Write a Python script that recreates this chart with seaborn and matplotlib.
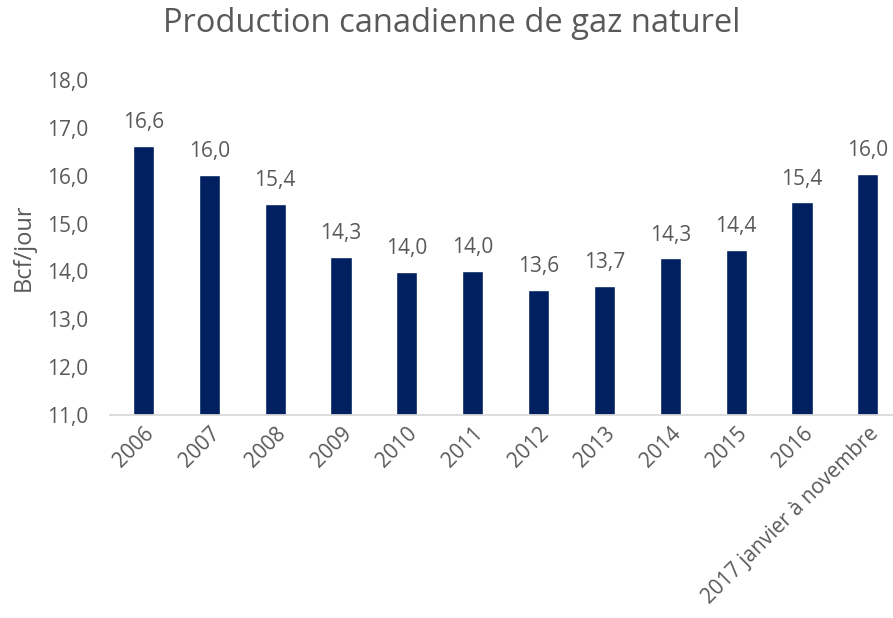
import numpy as np
import pandas as pd
import seaborn as sns
import matplotlib.pyplot as plt

# chart values
years = ['2006', '2007', '2008', '2009', '2010', '2011', '2012', '2013',
         '2014', '2015', '2016', '2017 janvier à novembre']
production = [16.62, 16.02, 15.41, 14.30, 13.99, 14.00, 13.62, 13.69,
              14.27, 14.45, 15.44, 16.03]
yticks = [11, 12, 13, 14, 15, 16, 17, 18]

df = pd.DataFrame({'Annee': years, 'Production': production})

sns.set_theme(style='white')
plt.rcParams['font.family'] = ['Open Sans', 'DejaVu Sans']
text_col = '#595959'

fig = plt.figure(figsize=(8.93, 6.18), dpi=100)
ax = fig.add_axes([0.1237, 0.3285, 0.885, 0.5421])

sns.barplot(data=df, x='Annee', y='Production', color='#002060',
            saturation=1, width=0.32, ax=ax)

ax.set_ylim(11, 18)
ax.set_xlim(-0.5, len(years) - 0.5)
ax.set_yticks(yticks)
ax.set_yticklabels([f'{v:.1f}'.replace('.', ',') for v in yticks],
                   fontsize=15, color=text_col)
ax.tick_params(axis='y', length=0, pad=16)
ax.tick_params(axis='x', length=0, pad=6)
ax.set_xticks(range(len(years)))
ax.set_xticklabels(years, rotation=45, ha='right', rotation_mode='anchor',
                   fontsize=15, color=text_col)

for i, v in enumerate(production):
    ax.text(i, v + 0.27, f'{v:.1f}'.replace('.', ','), ha='center', va='bottom',
            fontsize=15, color=text_col)

for s in ['top', 'right', 'left']:
    ax.spines[s].set_visible(False)
ax.spines['bottom'].set_color('#d9d9d9')
ax.spines['bottom'].set_linewidth(1.3)

ax.set_xlabel('')
ax.set_ylabel('Bcf/jour', fontsize=17, color=text_col, labelpad=8)

fig.text(0.506, 0.962, 'Production canadienne de gaz naturel', ha='center',
         va='center', fontsize=23.5, color=text_col)

fig.savefig('out.png', dpi=100)
